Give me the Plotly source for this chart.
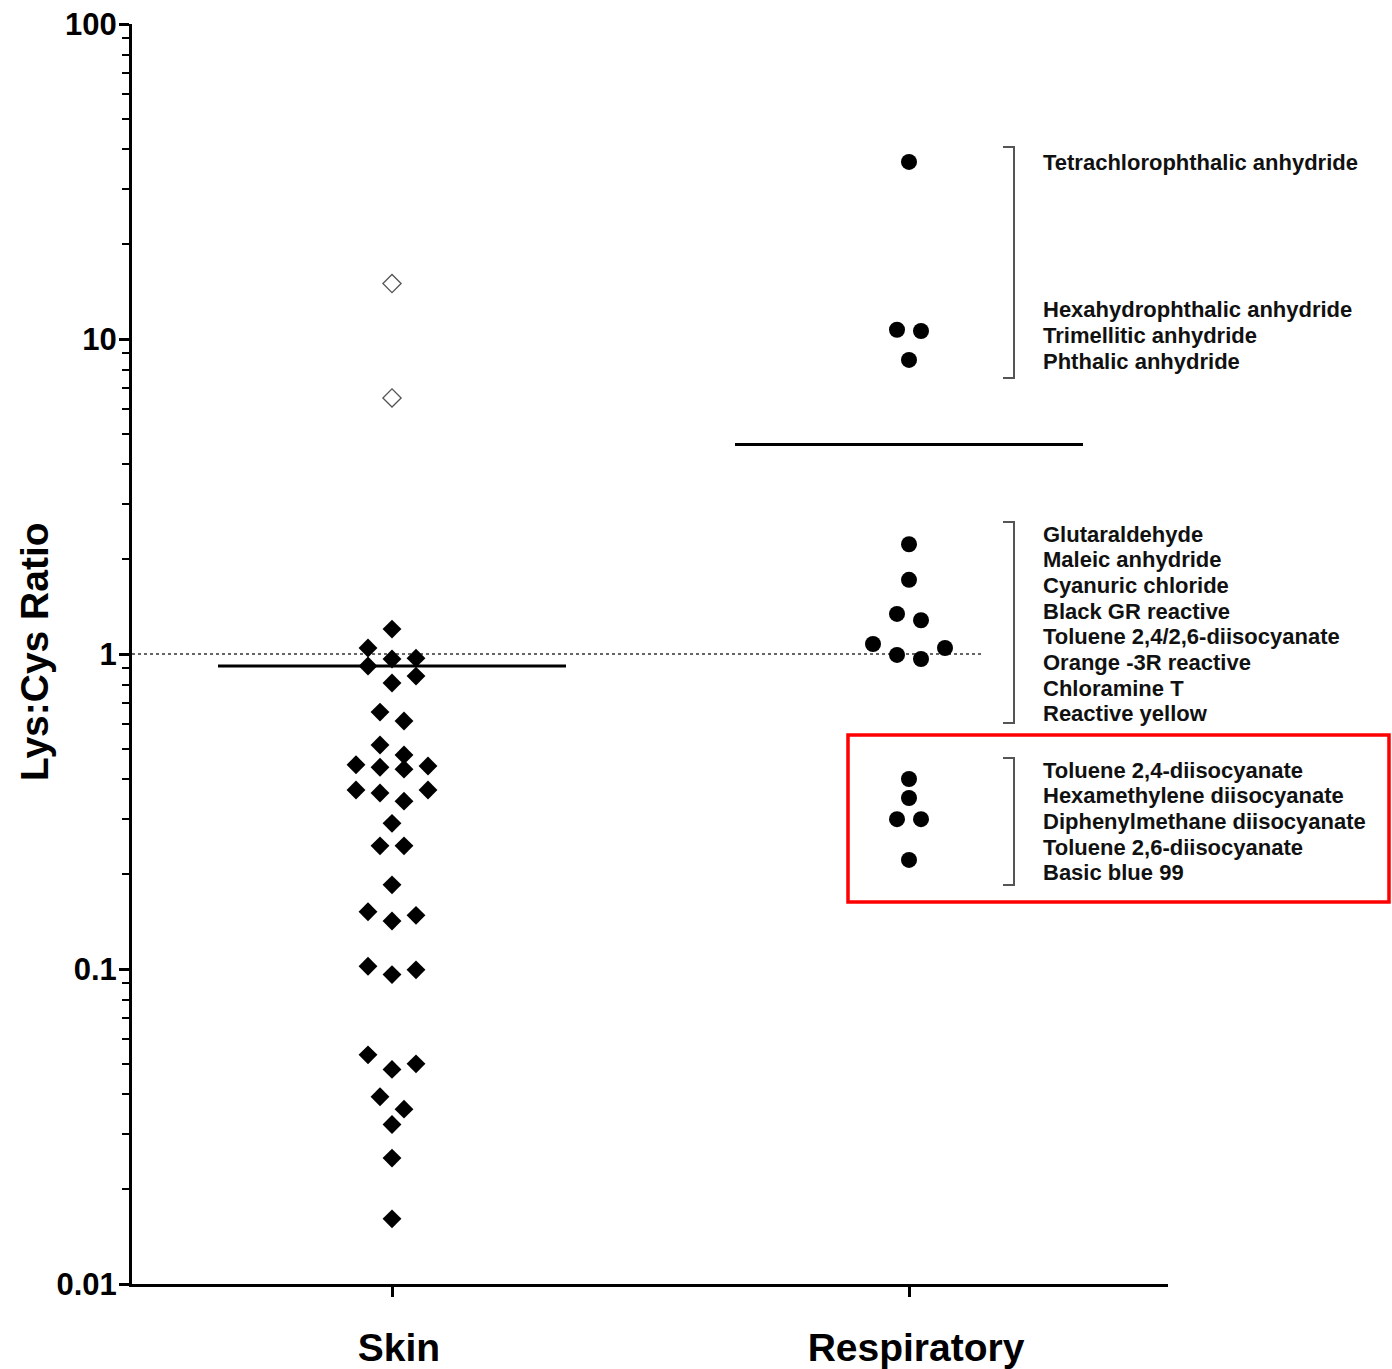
import math
import plotly.graph_objects as go

# ---------------- data ----------------
categories = ["Skin", "Respiratory"]

skin_values = [1.2, 1.045, 0.97, 0.964, 0.916, 0.851, 0.809, 0.654, 0.613, 0.514,
               0.478, 0.445, 0.441, 0.437, 0.431, 0.37, 0.37, 0.362, 0.341, 0.29,
               0.246, 0.246, 0.185, 0.152, 0.148, 0.142, 0.102, 0.0994, 0.096,
               0.0534, 0.05, 0.048, 0.0393, 0.0359, 0.0321, 0.0251, 0.0161]
skin_open_values = [15.0, 6.5]

resp_values = [36.5, 10.7, 10.6, 8.58, 2.23, 1.72, 1.34, 1.28, 1.076, 1.045,
               0.993, 0.964, 0.401, 0.349, 0.299, 0.299, 0.222]

label_groups = [
    ["Tetrachlorophthalic anhydride"],
    ["Hexahydrophthalic anhydride", "Trimellitic anhydride", "Phthalic anhydride"],
    ["Glutaraldehyde", "Maleic anhydride", "Cyanuric chloride", "Black GR reactive",
     "Toluene 2,4/2,6-diisocyanate", "Orange -3R reactive", "Chloramine T",
     "Reactive yellow"],
    ["Toluene 2,4-diisocyanate", "Hexamethylene diisocyanate",
     "Diphenylmethane diisocyanate", "Toluene 2,6-diisocyanate", "Basic blue 99"],
]

y_tick_vals = [0.01, 0.1, 1, 10, 100]
y_tick_text = ["0.01", "0.1", "1", "10", "100"]
reference_level = 1.0

# ---------------- layout geometry ----------------
W_FIG, H_FIG = 1392, 1369
L, R, T, B = 132, 1168, 24, 1284
PW, PH = R - L, B - T
PX_PER_UNIT = 517.0          # x data unit -> pixels
PX_PER_DECADE = PH / 4.0
x_left = 1 - (392 - L) / PX_PER_UNIT
x_right = x_left + PW / PX_PER_UNIT

FONT = "Liberation Sans, Arial, sans-serif"


def paper_x(px):
    return (px - L) / PW


def paper_y(py):
    return (B - py) / PH


def value_to_py(v):
    return B - (math.log10(v) + 2) * PX_PER_DECADE


def swarm(values, center, row_h=18.0, step=24.0):
    """Row-based beeswarm (Prism-like): returns x positions in data units."""
    order = sorted(range(len(values)), key=lambda i: -values[i])
    rows, cur = [], []
    for i in order:
        if cur and value_to_py(values[i]) - value_to_py(values[cur[0]]) > row_h:
            rows.append(cur)
            cur = []
        cur.append(i)
    if cur:
        rows.append(cur)
    xs = [0.0] * len(values)
    for row in rows:
        n = len(row)
        slots = [(k - (n - 1) / 2.0) * step for k in range(n)]
        slots_sorted = sorted(slots, key=lambda s: (abs(s), -s))
        members = sorted(row, key=lambda i: values[i])  # lowest in the centre
        for i, s in zip(members, slots_sorted):
            xs[i] = center + s / PX_PER_UNIT
    return xs


skin_x = swarm(skin_values, 1)
resp_x = swarm(resp_values, 2)

skin_mean = sum(skin_values + skin_open_values) / len(skin_values + skin_open_values)
resp_mean = sum(resp_values) / len(resp_values)
half_w = 174 / PX_PER_UNIT

fig = go.Figure()

# dotted reference line at 1
fig.add_trace(go.Scatter(
    x=[x_left, x_left + (982 - L) / PX_PER_UNIT], y=[reference_level, reference_level],
    mode="lines", line=dict(color="#333333", width=1.5, dash="dot"),
    hoverinfo="skip", showlegend=False))

# mean lines
for c, m in [(1, skin_mean), (2, resp_mean)]:
    fig.add_trace(go.Scatter(
        x=[c - half_w, c + half_w], y=[m, m], mode="lines",
        line=dict(color="black", width=3), hoverinfo="skip", showlegend=False))

fig.add_trace(go.Scatter(
    x=skin_x, y=skin_values, mode="markers",
    marker=dict(symbol="diamond", size=14.5, color="black"),
    showlegend=False))
fig.add_trace(go.Scatter(
    x=[1] * len(skin_open_values), y=skin_open_values, mode="markers",
    marker=dict(symbol="diamond-open", size=14, color="#555555",
                line=dict(width=1.3, color="#555555")),
    showlegend=False))
fig.add_trace(go.Scatter(
    x=resp_x, y=resp_values, mode="markers",
    marker=dict(symbol="circle", size=16, color="black"),
    showlegend=False))

# ---------------- annotations ----------------
annotations = []
line_gap = 25.7
group_first_py = [162, 310, 534, 770]
for names, py0 in zip(label_groups, group_first_py):
    for k, name in enumerate(names):
        annotations.append(dict(
            text=name, xref="paper", yref="paper",
            x=paper_x(1041), y=paper_y(py0 + k * line_gap),
            xanchor="left", yanchor="middle", showarrow=False,
            font=dict(family=FONT, size=22, color="#111111", weight="bold")))

annotations.append(dict(
    text="Lys:Cys Ratio", xref="paper", yref="paper",
    x=paper_x(34), y=paper_y(652), textangle=-90,
    xanchor="center", yanchor="middle", showarrow=False,
    font=dict(family=FONT, size=39, color="black", weight="bold")))

# brackets
shapes = []
for top, bot in [(147, 378), (522, 723), (758, 885)]:
    shapes.append(dict(
        type="path", xref="paper", yref="paper",
        path="M {a},{t} L {b},{t} L {b},{u} L {a},{u}".format(
            a=paper_x(1003), b=paper_x(1014), t=paper_y(top), u=paper_y(bot)),
        line=dict(color="#555555", width=2)))

# red highlight box
shapes.append(dict(
    type="rect", xref="paper", yref="paper",
    x0=paper_x(848), x1=paper_x(1389), y0=paper_y(735), y1=paper_y(902),
    line=dict(color="#ff0000", width=3.5), fillcolor="rgba(0,0,0,0)"))

fig.update_layout(
    width=W_FIG, height=H_FIG, autosize=False,
    margin=dict(l=L, r=W_FIG - R, t=T, b=H_FIG - B, pad=0, autoexpand=False),
    paper_bgcolor="white", plot_bgcolor="white",
    annotations=annotations, shapes=shapes,
    xaxis=dict(
        range=[x_left, x_right], tickmode="array", tickvals=[1, 2],
        ticktext=categories, showgrid=False, zeroline=False, automargin=False,
        showline=True, linewidth=3, linecolor="black",
        ticks="outside", ticklen=10, tickwidth=2.5, tickcolor="black",
        ticklabelstandoff=17, ticklabelshift=7,
        tickfont=dict(family=FONT, size=39, color="black", weight="bold")),
    yaxis=dict(
        type="log", range=[-2, 2], tickmode="array", tickvals=y_tick_vals,
        ticktext=y_tick_text, showgrid=False, zeroline=False, automargin=False,
        showline=True, linewidth=3, linecolor="black",
        ticks="outside", ticklen=10, tickwidth=2.5, tickcolor="black",
        ticklabelstandoff=-4,
        minor=dict(ticks="outside", ticklen=7, tickwidth=2, tickcolor="black",
                   dtick="D1", showgrid=False),
        tickfont=dict(family=FONT, size=31, color="black", weight="bold")),
)

fig.write_html(
    "out.html",
    config={"displayModeBar": False},
    post_script="document.body.style.margin='0';document.body.style.overflow='hidden';")
